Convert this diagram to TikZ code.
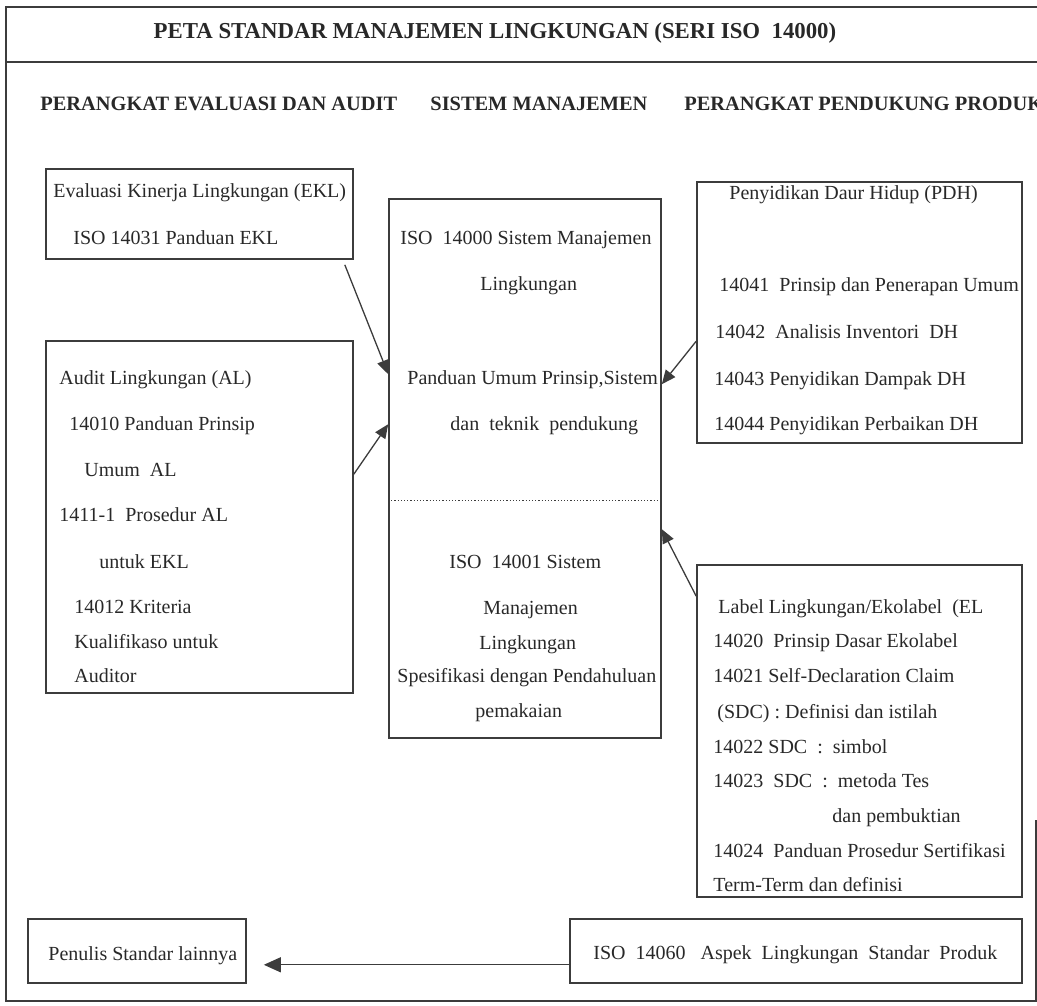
\documentclass[tikz,border=0pt]{standalone}
\usepackage{fontspec}
\setmainfont{Liberation Serif}
\usepackage{tikz}
\usetikzlibrary{arrows.meta, calc, fit}
\definecolor{ink}{RGB}{40,40,40}
\definecolor{rule}{RGB}{60,60,60}

\begin{document}
\begin{tikzpicture}[x=0.5pt, y=-0.5pt,
  box/.style={draw=rule, line width=0.8pt, inner sep=0pt},
  txt/.style={anchor=west, inner sep=0pt, text=ink, text height=7pt, text depth=2pt, font=\fontsize{10}{12}\selectfont},
  hdr/.style={inner sep=0pt, text=ink, font=\bfseries\fontsize{10.2}{12}\selectfont},
  arr/.style={draw=rule, line width=0.65pt, -{Triangle[length=7pt, width=6pt]}}]
  \useasboundingbox (0,0) rectangle (1037,1005);
  % frame and headings
  \draw[rule, line width=1pt] (1037,7) -- (6,7) -- (6,1001) -- (1036,1001) -- (1036,820);
  \draw[rule, line width=1pt] (6,62) -- (1037,62);
  \node[hdr, font=\bfseries\fontsize{11.4}{13}\selectfont] (judul) at (495,33) {PETA STANDAR MANAJEMEN LINGKUNGAN (SERI ISO~~14000)};
  \node[hdr, anchor=west] (hEval) at (40,104) {PERANGKAT EVALUASI DAN AUDIT};
  \node[hdr, anchor=west] (hSis) at (430,104) {SISTEM MANAJEMEN};
  \node[hdr, anchor=west] (hProd) at (684,104) {PERANGKAT PENDUKUNG PRODUK};

  % boxes
  \node[box, fit={(46,169) (353,259)}] (ekl) {};
  \node[box, fit={(46,341) (353,693)}] (al) {};
  \node[box, fit={(389,199) (661,738)}] (cen) {};
  \node[box, fit={(697,182) (1022,443)}] (pdh) {};
  \node[box, fit={(697,565) (1022,897)}] (el) {};
  \node[box, fit={(28,919) (246,983)}] (penulis) {};
  \node[box, fit={(570,919) (1022,983)}] (iso60) {};

  % texts
  \node[txt] (ekl1) at (53,193) {Evaluasi Kinerja Lingkungan (EKL)};
  \node[txt] (ekl2) at (73,240) {ISO 14031 Panduan EKL};
  \foreach \x/\y/\t [count=\i] in {59/379/{Audit Lingkungan (AL)}, 69/425/{14010 Panduan Prinsip},
      84/471/{Umum~~AL}, 59/516/{1411-1~~Prosedur AL}, 99/563/{untuk EKL},
      74/608/{14012 Kriteria}, 74/643/{Kualifikaso untuk}, 74/677/{Auditor}}
    \node[txt] (al\i) at (\x,\y) {\t};
  \foreach \x/\y/\t [count=\i] in {400/240/{ISO~~14000 Sistem Manajemen}, 480/286/{Lingkungan},
      407/379/{Panduan Umum Prinsip,Sistem}, 450/425/{dan~~teknik~~pendukung},
      449/563/{ISO~~14001 Sistem}, 483/609/{Manajemen}, 479/644/{Lingkungan},
      397/677/{Spesifikasi dengan Pendahuluan}, 475/712/{pemakaian}}
    \node[txt] (cen\i) at (\x,\y) {\t};
  \foreach \x/\y/\t [count=\i] in {729/195/{Penyidikan Daur Hidup (PDH)},
      719/287/{14041~~Prinsip dan Penerapan Umum}, 715/333/{14042~~Analisis Inventori~~DH},
      714/380/{14043 Penyidikan Dampak DH}, 714/425/{14044 Penyidikan Perbaikan DH}}
    \node[txt] (pdh\i) at (\x,\y) {\t};
  \foreach \x/\y/\t [count=\i] in {718/608/{Label Lingkungan/Ekolabel~~(EL}, 713/642/{14020~~Prinsip Dasar Ekolabel},
      713/677/{14021 Self-Declaration Claim}, 717/713/{(SDC) : Definisi dan istilah},
      713/748/{14022 SDC~~:~~simbol}, 713/782/{14023~~SDC~~:~~metoda Tes}, 832/817/{dan pembuktian},
      713/852/{14024~~Panduan Prosedur Sertifikasi}, 713/886/{Term-Term dan definisi}}
    \node[txt] (el\i) at (\x,\y) {\t};
  \node[txt] (penulis1) at (48,955) {Penulis Standar lainnya};
  \node[txt] (iso601) at (593,954) {ISO~~14060~~~Aspek~~Lingkungan~~Standar~~Produk};

  \draw[rule, line width=0.5pt, dash pattern=on 0.6pt off 1pt] ($(cen.north west)+(3,302)$) -- ($(cen.north east)+(-3,302)$);

  % arrows
  \draw[arr] ($(ekl.south east)+(-9,5)$) -- ($(cen.north west)+(0,176)$);
  \draw[arr] ($(al.north east)+(0,134)$) -- ($(cen.north west)+(0,226)$);
  \draw[arr] ($(pdh.north west)+(0,160)$) -- ($(cen.north east)+(0,186)$);
  \draw[arr] ($(el.north west)+(0,32)$) -- ($(cen.north east)+(0,331)$);
  \draw[arr, -{Triangle[length=8.5pt, width=7.5pt]}] ($(iso60.south west)+(0,-19)$) -- ($(penulis.south east)+(17,-19)$);
\end{tikzpicture}
\end{document}
